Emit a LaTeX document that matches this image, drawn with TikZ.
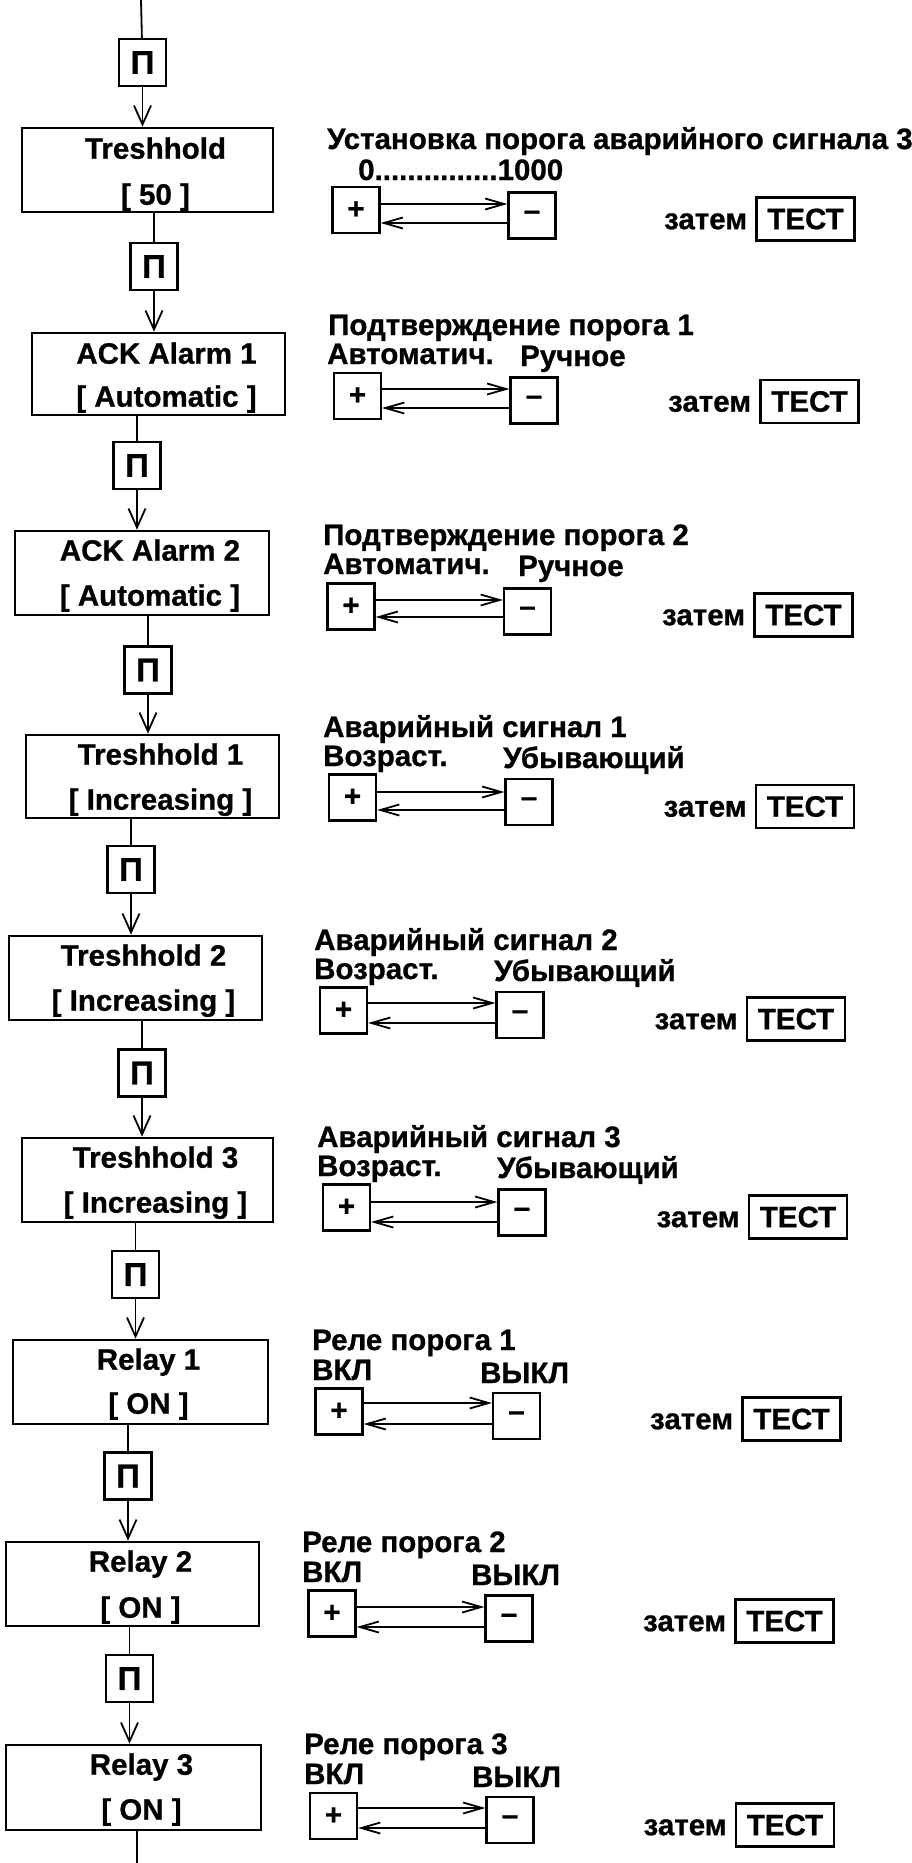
\documentclass[tikz,border=0pt]{standalone}
\usepackage{fontspec}
\setmainfont{Liberation Sans}[BoldFeatures={FakeBold=0.8}]
\usetikzlibrary{arrows.meta}
\newcommand\myfont{\fontsize{29.5}{45}\selectfont\bfseries}
\newcommand\pifont{\fontsize{33}{40}\selectfont\bfseries}
\begin{document}
\begin{tikzpicture}[x=1pt,y=-1pt,
  mainbox/.style={draw,line width=2.6pt,inner sep=0pt},
  btext/.style={anchor=base,inner sep=0pt,font=\myfont},
  pibox/.style={draw,line width=2.3pt,minimum width=47pt,minimum height=47pt,inner sep=0pt,font=\pifont},
  keybox/.style={draw,line width=2.2pt,minimum width=47pt,minimum height=46pt,inner sep=0pt,font=\myfont},
  testbox/.style={draw,line width=2.4pt,minimum width=98pt,minimum height=43pt,inner sep=0pt,font=\myfont},
  lbl/.style={anchor=base west,inner sep=0pt,font=\myfont},
  zlbl/.style={anchor=base east,inner sep=0pt,font=\myfont},
  flow/.style={line width=1.8pt},
  flowarrow/.style={line width=1.8pt,-{Straight Barb[length=19pt,width=17pt,line width=1.8pt]}},
  keyarrow/.style={line width=1.8pt,-{Straight Barb[length=19pt,width=11pt,line width=1.8pt]}}]
\useasboundingbox[fill=white] (0,0) rectangle (912,1863);

% ---------- left column ----------
\coordinate (top) at (141,0);
\coordinate (bend) at (137,1863);

\node[pibox] (pi1) at (142.5,62.5) {П};
\node[mainbox,minimum width=251pt,minimum height=84pt] (b1) at (147.5,170) {};
\node[pibox] (pi2) at (154,266.5) {П};
\node[mainbox,minimum width=253pt,minimum height=82pt] (b2) at (158.5,374) {};
\node[pibox] (pi3) at (137,465.5) {П};
\node[mainbox,minimum width=254pt,minimum height=84pt] (b3) at (142,573) {};
\node[pibox] (pi4) at (148,670) {П};
\node[mainbox,minimum width=253pt,minimum height=83pt] (b4) at (152.5,776.5) {};
\node[pibox] (pi5) at (131,869.5) {П};
\node[mainbox,minimum width=253pt,minimum height=84pt] (b5) at (135.5,978) {};
\node[pibox] (pi6) at (142,1073) {П};
\node[mainbox,minimum width=251pt,minimum height=84pt] (b6) at (147.5,1180) {};
\node[pibox] (pi7) at (135.5,1274.5) {П};
\node[mainbox,minimum width=255pt,minimum height=84pt] (b7) at (140.5,1382) {};
\node[pibox] (pi8) at (128,1476) {П};
\node[mainbox,minimum width=253pt,minimum height=84pt] (b8) at (132.5,1584) {};
\node[pibox] (pi9) at (129.5,1678.5) {П};
\node[mainbox,minimum width=255pt,minimum height=85pt] (b9) at (133.5,1787.5) {};

\path (b1.north) ++(8,32) node[btext] (b1a) {Treshhold};
\path (b1.north) ++(8,78) node[btext] (b1b) {[ 50 ]};
\path (b2.north) ++(8,32) node[btext] (b2a) {ACK Alarm 1};
\path (b2.north) ++(8,75) node[btext] (b2b) {[ Automatic ]};
\path (b3.north) ++(8,31) node[btext] (b3a) {ACK Alarm 2};
\path (b3.north) ++(8,76) node[btext] (b3b) {[ Automatic ]};
\path (b4.north) ++(8,31) node[btext] (b4a) {Treshhold 1};
\path (b4.north) ++(8,76) node[btext] (b4b) {[ Increasing ]};
\path (b5.north) ++(8,31) node[btext] (b5a) {Treshhold 2};
\path (b5.north) ++(8,76) node[btext] (b5b) {[ Increasing ]};
\path (b6.north) ++(8,31) node[btext] (b6a) {Treshhold 3};
\path (b6.north) ++(8,76) node[btext] (b6b) {[ Increasing ]};
\path (b7.north) ++(8,31) node[btext] (b7a) {Relay 1};
\path (b7.north) ++(8,75) node[btext] (b7b) {[ ON ]};
\path (b8.north) ++(8,31) node[btext] (b8a) {Relay 2};
\path (b8.north) ++(8,77) node[btext] (b8b) {[ ON ]};
\path (b9.north) ++(8,31) node[btext] (b9a) {Relay 3};
\path (b9.north) ++(8,76) node[btext] (b9b) {[ ON ]};

\draw[flow] (top) -- (pi1);
\draw[flowarrow] (pi1) -- (pi1 |- b1.north);
\draw[flow] (b1.south -| pi2) -- (pi2);
\draw[flowarrow] (pi2) -- (pi2 |- b2.north);
\draw[flow] (b2.south -| pi3) -- (pi3);
\draw[flowarrow] (pi3) -- (pi3 |- b3.north);
\draw[flow] (b3.south -| pi4) -- (pi4);
\draw[flowarrow] (pi4) -- (pi4 |- b4.north);
\draw[flow] (b4.south -| pi5) -- (pi5);
\draw[flowarrow] (pi5) -- (pi5 |- b5.north);
\draw[flow] (b5.south -| pi6) -- (pi6);
\draw[flowarrow] (pi6) -- (pi6 |- b6.north);
\draw[flow] (b6.south -| pi7) -- (pi7);
\draw[flowarrow] (pi7) -- (pi7 |- b7.north);
\draw[flow] (b7.south -| pi8) -- (pi8);
\draw[flowarrow] (pi8) -- (pi8 |- b8.north);
\draw[flow] (b8.south -| pi9) -- (pi9);
\draw[flowarrow] (pi9) -- (pi9 |- b9.north);
\draw[flow] (b9.south -| bend) -- (bend);

% ---------- right side ----------
% row 1
\node[lbl] (h1) at (327,149) {Установка порога аварийного сигнала 3};
\node[lbl] (l1) at (358,180) {0...............1000};
\node[keybox] (p1) at (356,210) {+};
\node[keybox] (m1) at (532,215.5) {–};
\node[testbox] (t1) at (805.5,219) {ТЕСТ};
\node[zlbl] (z1) at ([xshift=-8pt]t1.base west) {затем};
\draw[keyarrow] (p1.east |- 0,204) -- (m1.west |- 0,204);
\draw[keyarrow] (m1.west |- 0,223) -- (p1.east |- 0,223);

% row 2
\node[lbl] (h2) at (328,335) {Подтверждение порога 1};
\node[lbl] (l2) at (327,364) {Автоматич.};
\node[lbl] (r2) at (520,366) {Ручное};
\node[keybox] (p2) at (357.5,396) {+};
\node[keybox] (m2) at (534,400.5) {–};
\node[testbox] (t2) at (809.5,401.5) {ТЕСТ};
\node[zlbl] (z2) at ([xshift=-8pt]t2.base west) {затем};
\draw[keyarrow] (p2.east |- 0,389) -- (m2.west |- 0,389);
\draw[keyarrow] (m2.west |- 0,408) -- (p2.east |- 0,408);

% row 3
\node[lbl] (h3) at (323,545) {Подтверждение порога 2};
\node[lbl] (l3) at (323,574) {Автоматич.};
\node[lbl] (r3) at (518,576) {Ручное};
\node[keybox] (p3) at (351,606.5) {+};
\node[keybox] (m3) at (527.5,611.5) {–};
\node[testbox] (t3) at (803.5,615) {ТЕСТ};
\node[zlbl] (z3) at ([xshift=-8pt]t3.base west) {затем};
\draw[keyarrow] (p3.east |- 0,600) -- (m3.west |- 0,600);
\draw[keyarrow] (m3.west |- 0,617) -- (p3.east |- 0,617);

% row 4
\node[lbl] (h4) at (323,737) {Аварийный сигнал 1};
\node[lbl] (l4) at (323,766) {Возраст.};
\node[lbl] (r4) at (503,768) {Убывающий};
\node[keybox] (p4) at (352.5,797.5) {+};
\node[keybox] (m4) at (529,802) {–};
\node[testbox] (t4) at (805,806.5) {ТЕСТ};
\node[zlbl] (z4) at ([xshift=-8pt]t4.base west) {затем};
\draw[keyarrow] (p4.east |- 0,792) -- (m4.west |- 0,792);
\draw[keyarrow] (m4.west |- 0,810) -- (p4.east |- 0,810);

% row 5
\node[lbl] (h5) at (314,950) {Аварийный сигнал 2};
\node[lbl] (l5) at (314,979) {Возраст.};
\node[lbl] (r5) at (494,981) {Убывающий};
\node[keybox] (p5) at (343.5,1010.5) {+};
\node[keybox] (m5) at (520,1015) {–};
\node[testbox] (t5) at (796,1019) {ТЕСТ};
\node[zlbl] (z5) at ([xshift=-8pt]t5.base west) {затем};
\draw[keyarrow] (p5.east |- 0,1003) -- (m5.west |- 0,1003);
\draw[keyarrow] (m5.west |- 0,1023) -- (p5.east |- 0,1023);

% row 6
\node[lbl] (h6) at (317,1147) {Аварийный сигнал 3};
\node[lbl] (l6) at (317,1176) {Возраст.};
\node[lbl] (r6) at (497,1178) {Убывающий};
\node[keybox] (p6) at (346.5,1207.5) {+};
\node[keybox] (m6) at (522,1212.5) {–};
\node[testbox] (t6) at (798,1217) {ТЕСТ};
\node[zlbl] (z6) at ([xshift=-8pt]t6.base west) {затем};
\draw[keyarrow] (p6.east |- 0,1202) -- (m6.west |- 0,1202);
\draw[keyarrow] (m6.west |- 0,1222) -- (p6.east |- 0,1222);

% row 7
\node[lbl] (h7) at (312,1350) {Реле порога 1};
\node[lbl] (l7) at (312,1380) {ВКЛ};
\node[lbl] (r7) at (480,1383) {ВЫКЛ};
\node[keybox] (p7) at (339,1411.5) {+};
\node[keybox] (m7) at (516.5,1416) {–};
\node[testbox] (t7) at (791.5,1419) {ТЕСТ};
\node[zlbl] (z7) at ([xshift=-8pt]t7.base west) {затем};
\draw[keyarrow] (p7.east |- 0,1403) -- (m7.west |- 0,1403);
\draw[keyarrow] (m7.west |- 0,1424) -- (p7.east |- 0,1424);

% row 8
\node[lbl] (h8) at (302,1552) {Реле порога 2};
\node[lbl] (l8) at (302,1582) {ВКЛ};
\node[lbl] (r8) at (471,1585) {ВЫКЛ};
\node[keybox] (p8) at (332,1613.5) {+};
\node[keybox] (m8) at (509,1618.5) {–};
\node[testbox] (t8) at (784.5,1621) {ТЕСТ};
\node[zlbl] (z8) at ([xshift=-8pt]t8.base west) {затем};
\draw[keyarrow] (p8.east |- 0,1607) -- (m8.west |- 0,1607);
\draw[keyarrow] (m8.west |- 0,1627) -- (p8.east |- 0,1627);

% row 9
\node[lbl] (h9) at (304,1754) {Реле порога 3};
\node[lbl] (l9) at (304,1784) {ВКЛ};
\node[lbl] (r9) at (472,1787) {ВЫКЛ};
\node[keybox] (p9) at (333.5,1816) {+};
\node[keybox] (m9) at (510,1820) {–};
\node[testbox] (t9) at (785,1825) {ТЕСТ};
\node[zlbl] (z9) at ([xshift=-8pt]t9.base west) {затем};
\draw[keyarrow] (p9.east |- 0,1808) -- (m9.west |- 0,1808);
\draw[keyarrow] (m9.west |- 0,1828) -- (p9.east |- 0,1828);
\end{tikzpicture}
\end{document}
